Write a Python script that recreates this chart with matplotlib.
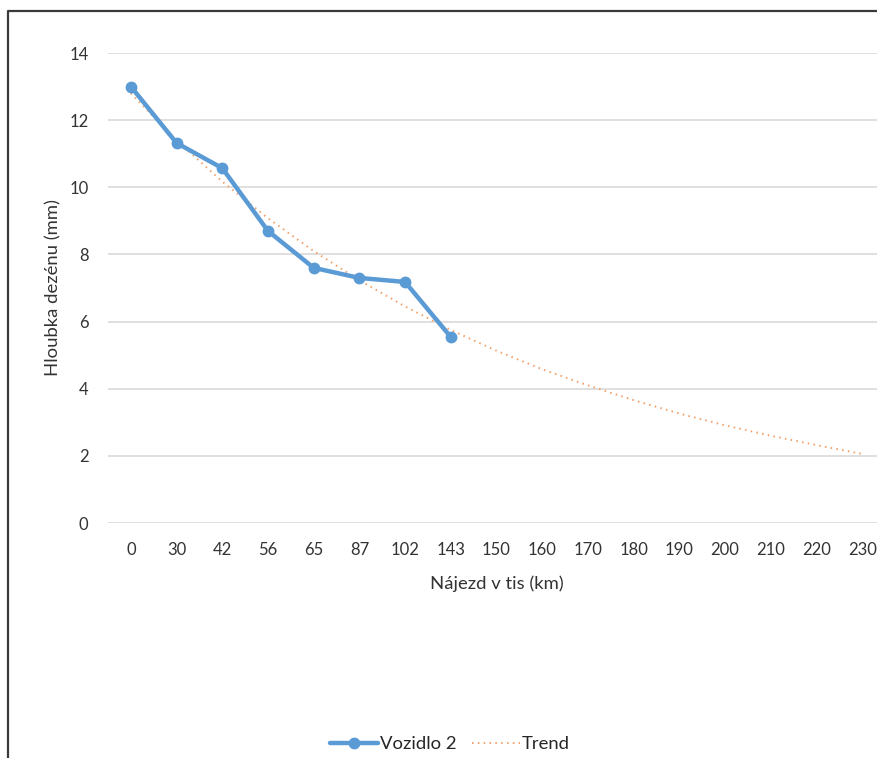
import numpy as np
import matplotlib as mpl
mpl.use('Agg')
import matplotlib.pyplot as plt
from matplotlib.lines import Line2D

# categories on the x axis (thousands of km)
categories = ['0', '30', '42', '56', '65', '87', '102', '143', '150', '160',
              '170', '180', '190', '200', '210', '220', '230']
# measured tread depth, vehicle 2
vozidlo2 = [13.0, 11.32, 10.57, 8.70, 7.60, 7.30, 7.18, 5.54]
# exponential trend
trend = [12.8, 11.4, 10.17, 9.08, 8.1, 7.23, 6.45, 5.75, 5.13, 4.58,
         4.1, 3.66, 3.26, 2.91, 2.6, 2.32, 2.06]
yticks = [0, 2, 4, 6, 8, 10, 12, 14]

plt.rcParams['font.family'] = ['Lato', 'DejaVu Sans']
text_color = '#333333'

fig = plt.figure(figsize=(8.77, 7.58), dpi=100)
ax = fig.add_axes([108/877, 235/758, 777/877, 470/758])

x = np.arange(len(categories))
ax.plot(x[:len(vozidlo2)], vozidlo2, color='#5B9BD5', lw=3.2, marker='o',
        markersize=7.5, solid_capstyle='round', solid_joinstyle='round',
        label='Vozidlo 2', zorder=3)
ax.plot(x, trend, color='#F4A06A', lw=1.4, linestyle=(0, (0.8, 2.2)),
        label='Trend', zorder=2)

ax.set_xlim(-0.5, len(categories) - 0.5)
ax.set_ylim(0, 14)
ax.set_xticks(x)
ax.set_xticklabels(categories)
ax.set_yticks(yticks)
ax.grid(axis='y', color='#D9D9D9', lw=1.2)
ax.set_axisbelow(True)
for s in ax.spines.values():
    s.set_visible(False)
ax.tick_params(length=0, labelsize=12, labelcolor=text_color)
ax.tick_params(axis='x', pad=14)
ax.tick_params(axis='y', pad=14)
ax.set_xlabel('Nájezd v tis (km)', fontsize=13.3, color=text_color, labelpad=12)
ax.set_ylabel('Hloubka dezénu (mm)', fontsize=13.3, color=text_color, labelpad=6)

# chart frame (left and top edges visible)
frame_y = (758 - 11) / 758
frame_x = 8 / 877
fig.add_artist(Line2D([frame_x, frame_x, 1.0], [0, frame_y, frame_y],
                      transform=fig.transFigure, color='#3A3A3A', lw=1.6))

leg = fig.legend(loc='center', bbox_to_anchor=(450/877, 14/758), ncol=2,
                 frameon=False, fontsize=13.3, handlelength=2.6,
                 columnspacing=0.8, handletextpad=0.1)
for t in leg.get_texts():
    t.set_color('#262626')

fig.savefig('out.png', dpi=100)
